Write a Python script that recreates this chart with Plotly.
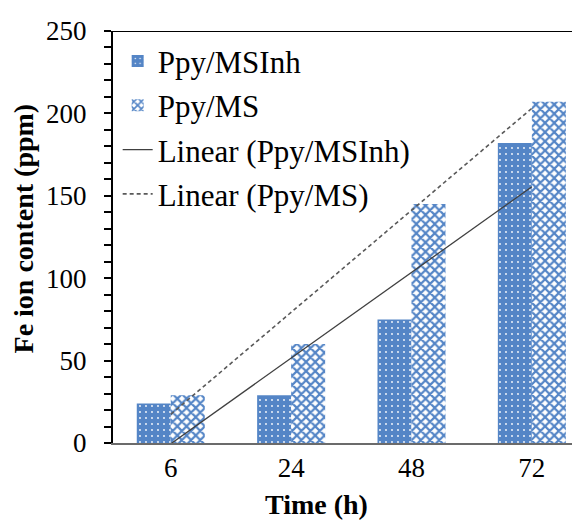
import numpy as np
import plotly.graph_objects as go

# ---- data ----
time_labels = ["6", "24", "48", "72"]
ppy_msinh = [24, 29, 75, 182]
ppy_ms = [29, 60, 145, 207]
y_ticks = [0, 50, 100, 150, 200, 250]

# Excel-style linear trendlines (fit over category index 1..n)
idx = np.arange(1, len(time_labels) + 1)
s1, b1 = np.polyfit(idx, ppy_msinh, 1)
s2, b2 = np.polyfit(idx, ppy_ms, 1)
fit_msinh = s1 * idx + b1
fit_ms = s2 * idx + b2

BLUE = "#5485c6"
FONT = "Liberation Serif"

fig = go.Figure()
fig.add_trace(go.Bar(
    x=time_labels, y=ppy_msinh, name="Ppy/MSInh", legendgroup="a",
    marker=dict(color=BLUE, line=dict(width=0),
                pattern=dict(shape=".", fgcolor="white", bgcolor=BLUE,
                             size=6, solidity=0.07, fillmode="replace")),
))
fig.add_trace(go.Bar(
    x=time_labels, y=ppy_ms, name="Ppy/MS", legendgroup="b",
    marker=dict(color=BLUE, line=dict(width=0),
                pattern=dict(shape="x", fgcolor=BLUE, bgcolor="white",
                             size=6.5, solidity=0.55, fillmode="replace")),
))
fig.add_trace(go.Scatter(
    x=time_labels, y=fit_msinh, name="Linear (Ppy/MSInh)", legendgroup="c",
    mode="lines", line=dict(color="#404040", width=1.3),
))
fig.add_trace(go.Scatter(
    x=time_labels, y=fit_ms, name="Linear (Ppy/MS)", legendgroup="d",
    mode="lines", line=dict(color="#595959", width=1.6, dash="4px,3px"),
))

fig.update_layout(
    width=580, height=520,
    margin=dict(l=105, r=8, t=17, b=85),
    paper_bgcolor="white", plot_bgcolor="white",
    barmode="group", bargap=0.435, bargroupgap=0,
    font=dict(family=FONT, size=27, color="black"),
    showlegend=True,
    legend=dict(x=0.01, y=0.992, xanchor="left", yanchor="top",
                bgcolor="rgba(0,0,0,0)", font=dict(size=31, family=FONT),
                tracegroupgap=1, itemwidth=30),
    xaxis=dict(type="category", range=[-0.48, 3.40], showline=True,
               linecolor="#6b6b6b", linewidth=2, ticks="", showgrid=False,
               zeroline=False, tickfont=dict(size=27, family=FONT)),
    yaxis=dict(range=[0, 250], tickvals=y_ticks, showline=True,
               linecolor="black", linewidth=2, ticks="outside", ticklen=7,
               tickwidth=2, tickcolor="black", showgrid=False, zeroline=False,
               ticklabelstandoff=12,
               tickfont=dict(size=27, family=FONT),
               minor=dict(dtick=10, ticks="outside", ticklen=7, tickwidth=2,
                          tickcolor="black", showgrid=False)),
    annotations=[
        dict(text="<b>Fe ion content (ppm)</b>", textangle=-90,
             xref="paper", yref="paper", x=-0.192, y=0.5215,
             xanchor="center", yanchor="middle", showarrow=False,
             font=dict(size=28, family=FONT, color="black")),
        dict(text="<b>Time (h)</b>",
             xref="paper", yref="paper", x=0.436, y=-0.150,
             xanchor="center", yanchor="middle", showarrow=False,
             font=dict(size=28, family=FONT, color="black")),
    ],
    shapes=[dict(type="line", xref="paper", yref="y", x0=-0.017, x1=1.02,
                 y0=250, y1=250, line=dict(color="black", width=2))],
)

fig.write_html("out.html")
